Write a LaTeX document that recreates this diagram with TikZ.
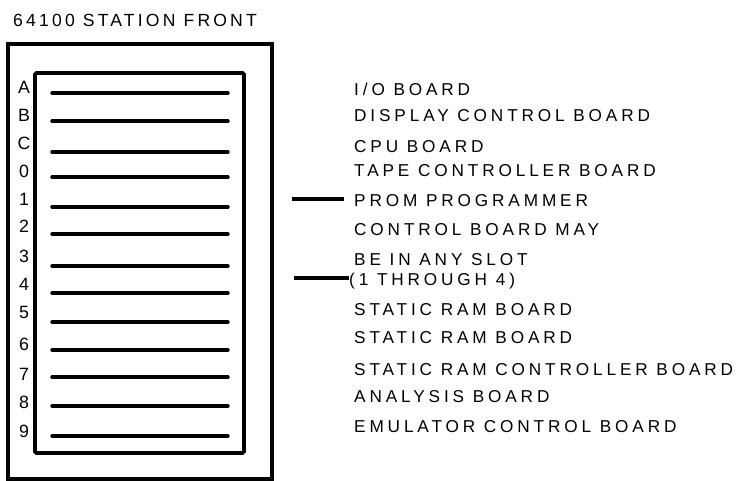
\documentclass[tikz,border=0pt]{standalone}
\usepackage{fontspec}
\setmainfont{Liberation Sans}
\newfontfamily\lblfont[LetterSpace=22.5]{Liberation Sans}
\newfontfamily\ttlfont[LetterSpace=18]{Liberation Sans}
\begin{document}
\begin{tikzpicture}[x=1pt,y=-1pt,
  txt/.style={anchor=base west,inner sep=0pt,font=\lblfont\fontsize{17.2}{21}\selectfont},
  ttl/.style={anchor=base west,inner sep=0pt,font=\ttlfont\fontsize{17.6}{21}\selectfont},
  slotlbl/.style={anchor=base,inner sep=0pt,font=\lblfont\fontsize{17.8}{21}\selectfont},
  slotline/.style={line width=3.4pt,line cap=round},
  box/.style={line width=3.8pt},
  conn/.style={line width=3.2pt}]
\useasboundingbox (0,0) rectangle (741,481);
\node[ttl] (title) at (13,27) {64100 STATION FRONT};
\draw[box] (8,44) rectangle (272,479);
\draw[box,rounded corners=1.5pt] (35,73) rectangle (244,453);
% slot labels and slot lines
\foreach \n/\lab/\yb/\yl in {sA/A/94/93, sB/B/122/121, sC/C/150/152, s0/0/178/177, s1/1/205/207, s2/2/233/234, s3/3/262/266, s4/4/290/293, s5/5/318/322, s6/6/350/350, s7/7/380/377, s8/8/408/406, s9/9/437/436}{
  \node[slotlbl] (\n) at (24,\yb) {\lab};
  \coordinate (\n-l) at (52,\yl);
  \coordinate (\n-r) at (228,\yl);
  \draw[slotline] (\n-l) -- (\n-r);
}
% board labels
\node[txt] (io) at (354,96) {I/O BOARD};
\node[txt] (disp) at (354,122) {DISPLAY CONTROL BOARD};
\node[txt] (cpu) at (354,153) {CPU BOARD};
\node[txt] (tape) at (354,177) {TAPE CONTROLLER BOARD};
\node[txt] (prom) at (354,207) {PROM PROGRAMMER};
\node[txt] (ctl) at (354,235) {CONTROL BOARD MAY};
\node[txt] (any) at (354,265) {BE IN ANY SLOT};
\node[txt] (thr) at (349,285) {(1 THROUGH 4)};
\node[txt] (sr1) at (354,315) {STATIC RAM BOARD};
\node[txt] (sr2) at (354,343) {STATIC RAM BOARD};
\node[txt] (src) at (354,375) {STATIC RAM CONTROLLER BOARD};
\node[txt] (ana) at (354,402) {ANALYSIS BOARD};
\node[txt] (emu) at (354,432) {EMULATOR CONTROL BOARD};
% connectors
\coordinate (p1) at (292,199);
\coordinate (p2) at (294,278);
\draw[conn] (p1) -- ([xshift=-10pt]p1 -| prom.west);
\draw[conn] (p2) -- (p2 -| thr.west);
\end{tikzpicture}
\end{document}
